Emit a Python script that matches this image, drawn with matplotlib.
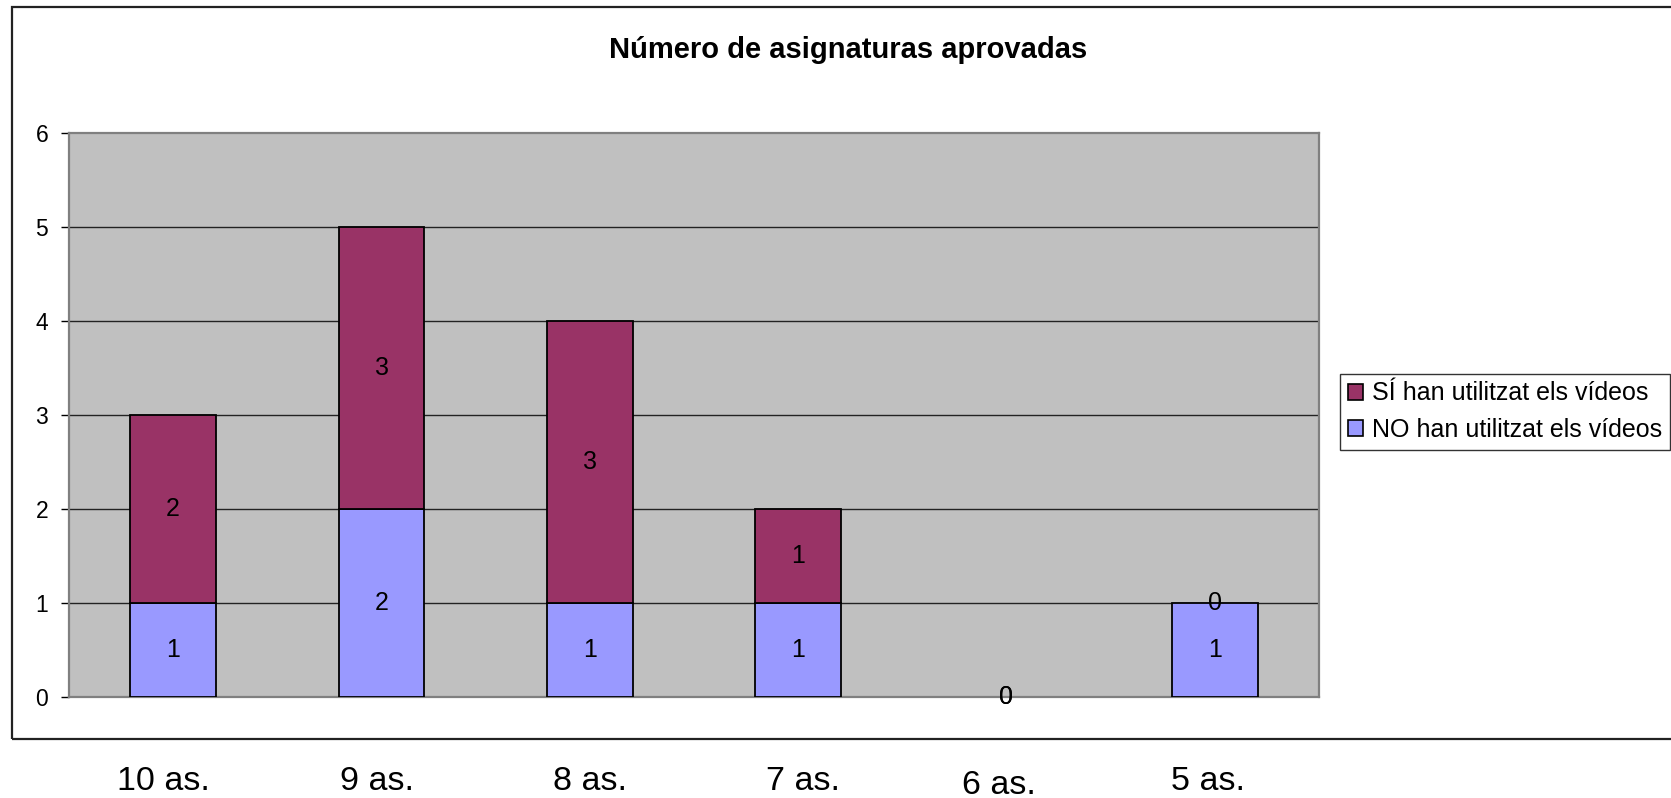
import numpy as np
import matplotlib
matplotlib.use("Agg")
import matplotlib.pyplot as plt
from matplotlib.patches import Rectangle, Patch
from matplotlib.transforms import blended_transform_factory, offset_copy

# ---- data ----
categories = ["10 as.", "9 as.", "8 as.", "7 as.", "6 as.", "5 as."]
no_values = [1, 2, 1, 1, 0, 1]   # NO han utilitzat els vídeos
si_values = [2, 3, 3, 1, 0, 0]   # SÍ han utilitzat els vídeos
series_names = ["SÍ han utilitzat els vídeos", "NO han utilitzat els vídeos"]
title = "Número de asignaturas aprovadas"
y_ticks = [0, 1, 2, 3, 4, 5, 6]

# ---- style ----
plt.rcParams["font.family"] = ["Liberation Sans", "DejaVu Sans"]
COL_SI = "#993366"
COL_NO = "#9999FF"
BG = "#C0C0C0"

W, H = 1671, 798
fig = plt.figure(figsize=(W / 100, H / 100), dpi=100)
fig.patch.set_facecolor("white")

# outer chart frame
fig.add_artist(Rectangle((12 / W, 1 - 739 / H), 1.2, (739 - 7) / H,
                         transform=fig.transFigure, fill=False,
                         edgecolor="#222222", linewidth=1.6, zorder=0))

ax = fig.add_axes([69 / W, 1 - 697 / H, 1250 / W, 564 / H])
ax.set_facecolor(BG)

x = np.arange(len(categories))
width = 0.41
b_no = ax.bar(x, no_values, width, color=COL_NO, edgecolor="black",
              linewidth=1.3, zorder=3)
b_si = ax.bar(x, si_values, width, bottom=no_values, color=COL_SI,
              edgecolor="black", linewidth=1.3, zorder=3)
# zero-height segments are not drawn in the original
for bars, vals in ((b_no, no_values), (b_si, si_values)):
    for p, v in zip(bars, vals):
        if v == 0:
            p.set_linewidth(0)

ax.bar_label(b_no, labels=[str(v) for v in no_values], label_type="center",
             fontsize=18, zorder=5)
ax.bar_label(b_si, labels=[str(v) for v in si_values], label_type="center",
             fontsize=18, zorder=5)

ax.set_xlim(-0.5, len(categories) - 0.5)
ax.set_ylim(0, 6)
ax.set_yticks(y_ticks)
ax.set_yticklabels([str(t) for t in y_ticks])
ax.tick_params(axis="y", labelsize=16.5, length=6, width=1, pad=9,
               color="black")
ax.set_xticks([])

for yv in y_ticks[1:-1]:
    ax.axhline(yv, color="#222222", linewidth=1.0, zorder=1)

for s in ax.spines.values():
    s.set_color("#808080")
    s.set_linewidth(1.6)

# category labels below the chart frame
trans = blended_transform_factory(ax.transData, fig.transFigure)
x_off = [-10, -4, 0, 5, -8, -7]
y_base = [790, 790, 790, 790, 794, 790]
for i, lab in enumerate(categories):
    t = offset_copy(trans, fig=fig, x=x_off[i], y=0, units="dots")
    ax.text(x[i], 1 - y_base[i] / H, lab, transform=t, ha="center",
            va="baseline", fontsize=24.5, clip_on=False)

# title
fig.text(848 / W, 1 - 58 / H, title, ha="center", va="baseline",
         fontsize=21, fontweight="bold")

# legend
handles = [Patch(facecolor=COL_SI, edgecolor="black", linewidth=1.2),
           Patch(facecolor=COL_NO, edgecolor="black", linewidth=1.2)]
leg = fig.legend(handles, series_names, loc="upper left",
                 bbox_to_anchor=(1340 / W, 1 - 374 / H), fontsize=18,
                 frameon=True, fancybox=False, edgecolor="black",
                 borderaxespad=0, borderpad=0.3, handlelength=0.6,
                 handleheight=0.6, handletextpad=0.4, labelspacing=0.5)
leg.get_frame().set_linewidth(1.0)

fig.savefig("out.png", dpi=100)
